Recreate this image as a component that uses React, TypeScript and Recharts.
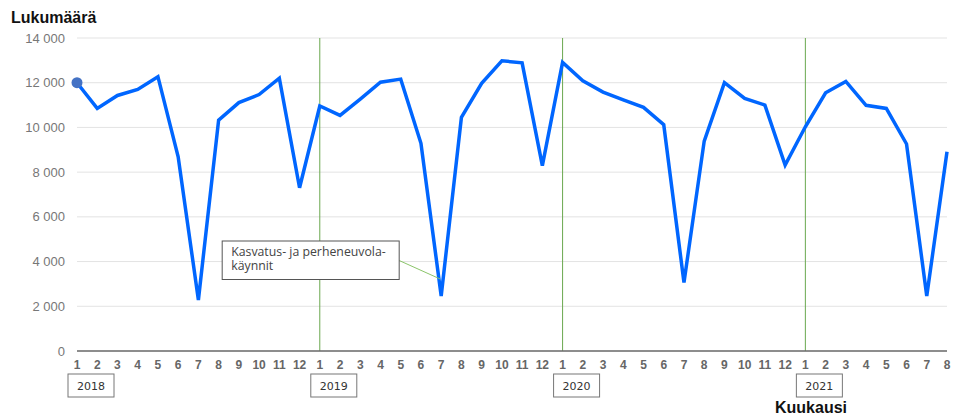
import { LineChart, Line, XAxis, YAxis, CartesianGrid, ReferenceLine, ReferenceDot } from "recharts";

const YEARS = [2018, 2019, 2020, 2021];
const VISITS_2018 = [12000, 10850, 11430, 11700, 12270, 8690, 2280, 10330, 11110, 11470, 12200, 7300];
const VISITS_2019 = [10960, 10540, 11270, 12020, 12160, 9290, 2460, 10450, 11970, 12980, 12890, 8290];
const VISITS_2020 = [12910, 12090, 11580, 11230, 10900, 10120, 3060, 9390, 12000, 11300, 11000, 8320];
const VISITS_2021 = [10030, 11550, 12060, 10990, 10850, 9260, 2460, 8910];
const Y_TICKS = [0, 2000, 4000, 6000, 8000, 10000, 12000, 14000];
const SERIES_NAME = ["Kasvatus- ja perheneuvola-", "käynnit"];

const data = [VISITS_2018, VISITS_2019, VISITS_2020, VISITS_2021].flatMap((vals, yi) =>
  vals.map((v, mi) => ({ year: YEARS[yi], month: mi + 1, v }))
).map((d, idx) => ({ ...d, idx }));

const yearStarts = data.filter((d) => d.month === 1 && d.idx > 0).map((d) => d.idx);
const callout = data.find((d) => d.year === 2019 && d.month === 7)!;

const fmt = (n: number) => n.toLocaleString("fi-FI").replace(/\s/g, " ");

function MonthTick({ x, y, payload }: any) {
  const d = data[payload.value];
  return (
    <g>
      <text x={x} y={y} dy="0.71em" textAnchor="middle" fontSize={12} fontWeight="bold"
        fontFamily="'Liberation Sans', Arial, sans-serif" fill="#666">
        {d.month}
      </text>
      {d.month === 1 && (
        <g>
          <rect x={x + 14 - 23} y={y + 14} width={46} height={23} fill="#fff" stroke="#777" strokeWidth={1} />
          <text x={x + 14} y={y + 29.5} textAnchor="middle" fontSize={11}
            fontFamily="'DejaVu Sans', Verdana, sans-serif" fill="#333">
            {d.year}
          </text>
        </g>
      )}
    </g>
  );
}

function FirstDot({ cx, cy, index }: any) {
  if (index !== 0) return <g key={index} />;
  return <circle key={index} cx={cx} cy={cy} r={5.5} fill="#4472c4" />;
}

// series label box pointing at the July 2019 dip
function Callout({ cx, cy }: any) {
  return (
    <g>
      <line x1={cx - 42} y1={cy - 35.5} x2={cx - 1} y2={cy - 17} stroke="#8bc56a" strokeWidth={1} />
      <rect x={cx - 219} y={cy - 55} width={177} height={38.5} fill="#fff" stroke="#555" strokeWidth={1} />
      <text x={cx - 210} y={cy - 40} fontSize={12.3} fontFamily="'Open Sans', sans-serif" fill="#444">
        {SERIES_NAME.map((t, i) => (
          <tspan key={i} x={cx - 210} dy={i === 0 ? 0 : 14}>
            {t}
          </tspan>
        ))}
      </text>
    </g>
  );
}

export default function App() {
  return (
    <div style={{ position: "absolute", left: 0, top: 0, width: 956, height: 416, background: "#fff" }}>
      <LineChart width={956} height={416} data={data} margin={{ top: 38, right: 9, bottom: 35, left: 0 }}>
        <CartesianGrid vertical={false} stroke="#e3e3e3" strokeWidth={1} />
        <YAxis
          width={77}
          domain={[0, 14000]}
          ticks={Y_TICKS}
          tickFormatter={fmt}
          axisLine={false}
          tickLine={false}
          tickMargin={6}
          tick={{ fontSize: 13, fill: "#777", fontFamily: "'Liberation Sans', Arial, sans-serif" }}
        />
        <XAxis
          dataKey="idx"
          type="category"
          interval={0}
          height={30}
          tickLine={false}
          tickMargin={3}
          axisLine={{ stroke: "#6b6b6b", strokeWidth: 1.5 }}
          tick={<MonthTick />}
        />
        {yearStarts.map((i) => (
          <ReferenceLine key={i} x={i} stroke="#6aa84f" strokeWidth={1} />
        ))}
        <Line
          type="linear"
          dataKey="v"
          stroke="#0066ff"
          strokeWidth={3.5}
          dot={<FirstDot />}
          activeDot={false}
          isAnimationActive={false}
        />
        <ReferenceDot x={callout.idx} y={callout.v} shape={<Callout />} />
      </LineChart>
      <svg width={956} height={416} style={{ position: "absolute", left: 0, top: 0, pointerEvents: "none" }}>
        <text x={11} y={23.3} fontSize={16} fontWeight="bold" fontFamily="'Liberation Sans', Arial, sans-serif" fill="#111">
          Lukumäärä
        </text>
        <text x={775} y={412.7} fontSize={16} fontWeight="bold" fontFamily="'Liberation Sans', Arial, sans-serif" fill="#111">
          Kuukausi
        </text>
      </svg>
    </div>
  );
}
